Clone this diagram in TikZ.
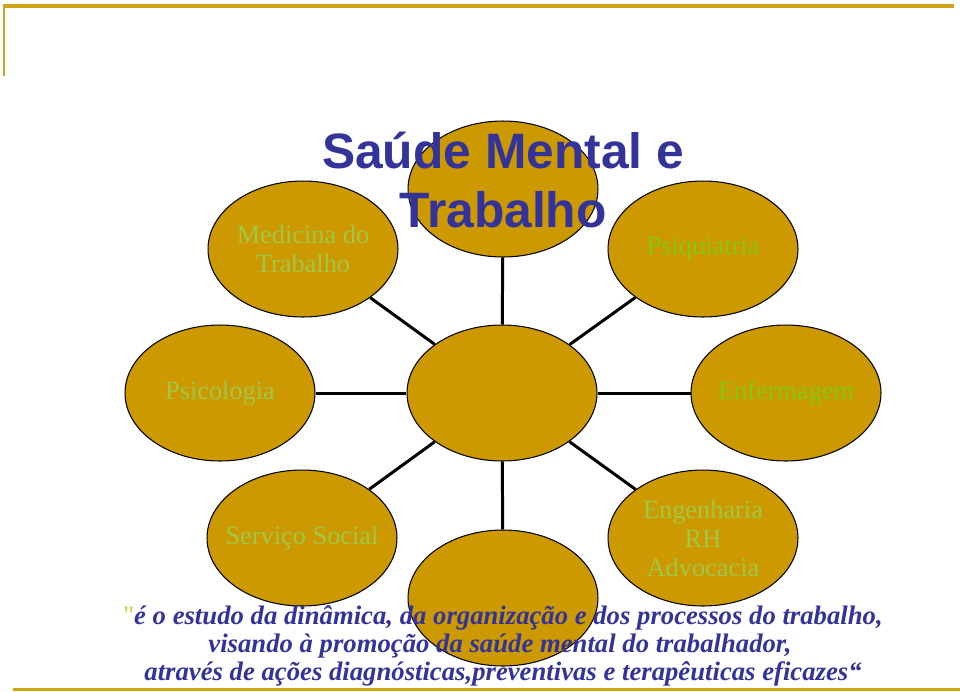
\documentclass[tikz,border=0pt]{standalone}
\usepackage{fontspec}
\setmainfont{Liberation Serif}
\newfontfamily\titlefont{Liberation Sans}
\newfontfamily\quotefont[Ligatures=TeXOff]{Liberation Serif}
\usetikzlibrary{shapes.geometric}
\definecolor{gold}{RGB}{204,153,0}
\definecolor{rulegold}{RGB}{206,164,24}
\definecolor{titleblue}{RGB}{51,51,153}
\definecolor{labelgreen}{RGB}{160,200,70}
\definecolor{brightgreen}{RGB}{130,200,20}
\definecolor{quotegreen}{RGB}{200,210,60}
\begin{document}
\begin{tikzpicture}[x=0.02cm,y=-0.02cm,
  areabox/.style={ellipse,draw=black,line width=0.6pt,fill=gold,minimum width=3.8cm,minimum height=2.72cm,inner sep=-10pt,align=center,text=labelgreen,font=\fontsize{15}{16.5}\selectfont},
  linkline/.style={line width=1.7pt},
  titletext/.style={anchor=base,inner sep=0pt,text=titleblue,font=\titlefont\bfseries\fontsize{28.3}{34}\selectfont},
  quotetext/.style={anchor=base,inner sep=0pt,text=titleblue,font=\bfseries\itshape\fontsize{15.2}{18}\selectfont}]
\useasboundingbox (0,0) rectangle (960,691);
%\draw[step=50,gray,very thin] (0,0) grid (960,691); %background grid
% frame lines
\draw[rulegold,line width=2.2pt] (3,6) -- (954,6) ;
\draw[rulegold,line width=1.2pt] (4,6) -- (4,76) ;
\draw[rulegold,line width=1.7pt] (13,689) -- (960,689) ;
% fields
\node[areabox] (mid) at (502,393) {};
\node[areabox] (top) at (503,189) {};
\node[areabox] (med) at (303,249) {Medicina do\\Trabalho};
\node[areabox,text=brightgreen] (psiq) at (703,249) {Psiquiatria};
\node[areabox] (psic) at (220,393) {Psicologia};
\node[areabox,text=brightgreen] (enf) at (786,393) {Enfermagem};
\node[areabox] (serv) at (302,538) {Serviço Social};
\node[areabox] (eng) at (703,538) {Engenharia\\RH\\Advocacia};
\node[areabox] (bot) at (503,598) {};
% links
\foreach \n in {top,med,psiq,psic,enf,serv,eng,bot}
  \draw[linkline] (mid) -- (\n) ;
% title
\node[titletext] (title) at (503,168) {Saúde Mental e};
\node[titletext] (titlesub) at (503,227) {Trabalho};
% definition
\node[quotetext] (def1) at (503,624) {{\quotefont\mdseries\upshape\color{quotegreen}"}é o estudo da dinâmica, da organização e dos processos do trabalho,};
\node[quotetext] (def2) at (500,652) {visando à promoção da saúde mental do trabalhador,};
\node[quotetext] (def3) at (503,680) {através de ações diagnósticas,preventivas e terapêuticas eficazes“};
\end{tikzpicture}
\end{document}
